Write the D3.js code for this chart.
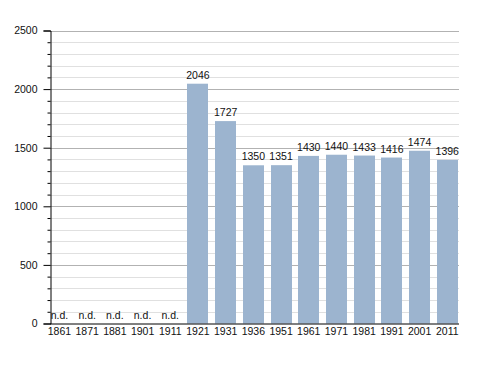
<!DOCTYPE html>
<html>
<head>
<meta charset="utf-8">
<script src="https://cdn.jsdelivr.net/npm/d3@7"></script>
<style>
  html, body { margin: 0; padding: 0; background: #fff; }
  svg { display: block; font-family: "Liberation Sans", Arial, sans-serif; }
</style>
</head>
<body>
<div id="chart"></div>
<script>
// census years and population (null = n.d.)
const years = ['1861', '1871', '1881', '1901', '1911', '1921', '1931', '1936',
               '1951', '1961', '1971', '1981', '1991', '2001', '2011'];
const population = [null, null, null, null, null, 2046, 1727, 1350,
                    1351, 1430, 1440, 1433, 1416, 1474, 1396];
const majorTicks = [0, 500, 1000, 1500, 2000, 2500];
const minorTicks = [100, 200, 300, 400, 600, 700, 800, 900, 1100, 1200, 1300, 1400,
                    1600, 1700, 1800, 1900, 2100, 2200, 2300, 2400];

const W = 488, H = 373;
const left = 50, right = 459, y0 = 323.5, yTop = 30.5;

const svg = d3.select('#chart').append('svg')
  .attr('width', W).attr('height', H);

const x = d3.scaleBand()
  .domain(years)
  .range([45.6, 45.6 + 27.7 * years.length])
  .paddingInner(0.24)
  .paddingOuter(0.12);

const y = d3.scaleLinear().domain([0, 2500]).range([y0, yTop]);

// minor grid
svg.append('g')
  .selectAll('line')
  .data(minorTicks)
  .join('line')
  .attr('x1', left).attr('x2', right)
  .attr('y1', d => Math.round(y(d)) + 0.5).attr('y2', d => Math.round(y(d)) + 0.5)
  .attr('stroke', '#e0e0e0').attr('stroke-width', 1);

// major grid
svg.append('g')
  .selectAll('line')
  .data(majorTicks.filter(d => d > 0))
  .join('line')
  .attr('x1', left).attr('x2', right)
  .attr('y1', d => Math.round(y(d)) + 0.5).attr('y2', d => Math.round(y(d)) + 0.5)
  .attr('stroke', '#b2b2b2').attr('stroke-width', 1);

// bars
const data = years.map((yr, i) => ({ year: yr, value: population[i] }));

svg.append('g')
  .selectAll('rect')
  .data(data.filter(d => d.value !== null))
  .join('rect')
  .attr('x', d => Math.round(x(d.year)))
  .attr('width', Math.round(x.bandwidth()))
  .attr('y', d => y(d.value))
  .attr('height', d => y0 - y(d.value))
  .attr('fill', '#9cb4cf');

// value labels
svg.append('g')
  .selectAll('text')
  .data(data)
  .join('text')
  .attr('x', d => x(d.year) + x.bandwidth() / 2)
  .attr('y', d => y(d.value === null ? 0 : d.value) - 5)
  .attr('text-anchor', 'middle')
  .attr('font-size', '10.5px')
  .attr('fill', '#111')
  .text(d => d.value === null ? 'n.d.' : d.value);

// y axis
const yAxis = svg.append('g')
  .attr('transform', `translate(${left + 0.5},0)`)
  .call(d3.axisLeft(y).tickValues(majorTicks).tickSize(7).tickPadding(6)
    .tickFormat(d3.format('d')));
yAxis.select('.domain').attr('stroke', '#000');
yAxis.selectAll('.tick line').attr('stroke', '#000');
yAxis.selectAll('.tick text')
  .attr('font-size', '10.5px')
  .attr('font-family', '"Liberation Sans", Arial, sans-serif')
  .attr('fill', '#111');

svg.append('g')
  .attr('transform', `translate(${left + 0.5},0)`)
  .call(d3.axisLeft(y).tickValues(minorTicks).tickSize(3).tickFormat(''))
  .call(g => g.select('.domain').remove())
  .selectAll('.tick line').attr('stroke', '#000');

// x axis
const xAxis = svg.append('g')
  .attr('transform', `translate(0,${y0 + 0.5})`)
  .call(d3.axisBottom(x).tickSize(0).tickPadding(4));
xAxis.select('.domain').remove();
xAxis.selectAll('.tick text')
  .attr('font-size', '10.5px')
  .attr('font-family', '"Liberation Sans", Arial, sans-serif')
  .attr('fill', '#111');

svg.append('line')
  .attr('x1', left).attr('x2', right)
  .attr('y1', y0 + 0.5).attr('y2', y0 + 0.5)
  .attr('stroke', '#000');
</script>
</body>
</html>
